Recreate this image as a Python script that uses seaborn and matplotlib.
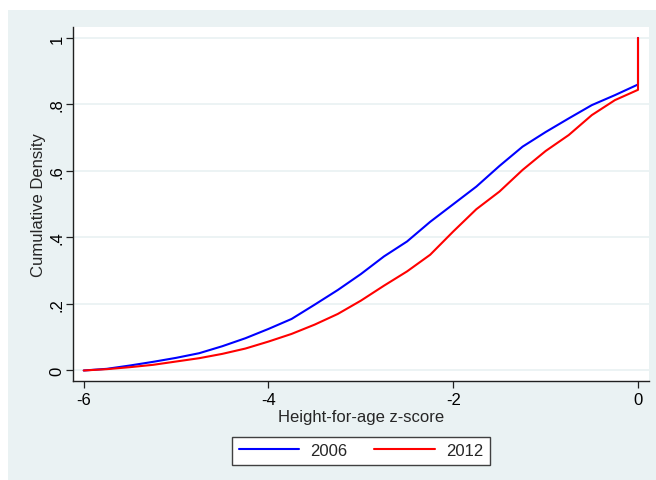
import matplotlib
matplotlib.use("Agg")
import matplotlib.pyplot as plt
import matplotlib.patches as mpatches
import numpy as np
import pandas as pd
import seaborn as sns

# Cumulative distribution of height-for-age z-scores by survey year
z_grid = [-6.0, -5.75, -5.5, -5.25, -5.0, -4.75, -4.5, -4.25, -4.0, -3.75,
          -3.5, -3.25, -3.0, -2.75, -2.5, -2.25, -2.0, -1.75, -1.5, -1.25,
          -1.0, -0.75, -0.5, -0.25, 0.0, 0.0]
cdf_2006 = [0.000, 0.005, 0.015, 0.026, 0.038, 0.052, 0.073, 0.097, 0.125, 0.155,
            0.198, 0.242, 0.290, 0.343, 0.388, 0.447, 0.500, 0.553, 0.615, 0.673,
            0.717, 0.758, 0.798, 0.828, 0.860, 1.000]
cdf_2012 = [0.000, 0.004, 0.010, 0.017, 0.027, 0.037, 0.050, 0.066, 0.087, 0.110,
            0.138, 0.170, 0.210, 0.255, 0.298, 0.348, 0.418, 0.485, 0.538, 0.603,
            0.660, 0.708, 0.768, 0.813, 0.844, 1.000]
years = ["2006", "2012"]
x_ticks = [-6, -4, -2, 0]
y_ticks = [0, 0.2, 0.4, 0.6, 0.8, 1.0]
y_tick_labels = ["0", ".2", ".4", ".6", ".8", "1"]

df = pd.concat([
    pd.DataFrame({"z": z_grid, "cdf": cdf_2006, "year": years[0]}),
    pd.DataFrame({"z": z_grid, "cdf": cdf_2012, "year": years[1]}),
], ignore_index=True)

sns.set_style("white")
plt.rcParams["font.family"] = ["Liberation Sans", "DejaVu Sans"]

fs = 12
bg = "#EAF2F3"
fig = plt.figure(figsize=(6.56, 4.81), dpi=100, facecolor="white")
fig.patches.append(mpatches.Rectangle((8 / 656, 0), 1, 1 - 10.5 / 481,
                                      transform=fig.transFigure, facecolor=bg,
                                      edgecolor="none", zorder=-10))

ax = fig.add_axes([73.3 / 656, 1 - 382.3 / 481, (649 - 73.3) / 656, (382.3 - 28.3) / 481])
ax.set_facecolor("white")

sns.lineplot(data=df, x="z", y="cdf", hue="year", palette=["#0000FF", "#FF0000"],
             estimator=None, sort=False, linewidth=1.5, ax=ax)

ax.set_xlim(-6.113, 0.119)
ax.set_ylim(-0.0325, 1.032)
ax.set_xticks(x_ticks)
ax.set_xticklabels([str(t) for t in x_ticks])
ax.set_yticks(y_ticks)
ax.set_yticklabels(y_tick_labels, rotation=90, va="center")

ax.grid(axis="y", color=bg, linewidth=1.3)
ax.set_axisbelow(True)
for side in ["top", "right"]:
    ax.spines[side].set_visible(False)
for side in ["left", "bottom"]:
    ax.spines[side].set_color("#202020")
    ax.spines[side].set_linewidth(1.0)

ax.tick_params(axis="both", which="major", direction="out", length=5, width=0.9,
               color="#202020", labelsize=fs, labelcolor="black", pad=3,
               left=True, bottom=True)
ax.tick_params(axis="y", pad=1.5)

ax.set_xlabel("Height-for-age z-score", fontsize=fs, labelpad=1)
ax.set_ylabel("Cumulative Density", fontsize=fs, labelpad=2)

sns.move_legend(ax, loc="center", bbox_to_anchor=(361 / 656, 1 - 451.7 / 481),
                bbox_transform=fig.transFigure, ncol=2, title=None,
                frameon=True, fancybox=False, fontsize=fs,
                handlelength=3.65, handletextpad=0.66, columnspacing=1.6,
                borderpad=0.4, edgecolor="#404040", facecolor="white", framealpha=1)
leg = ax.get_legend()
leg.get_frame().set_linewidth(1.0)

fig.savefig("out.png", dpi=100, facecolor=fig.get_facecolor())
